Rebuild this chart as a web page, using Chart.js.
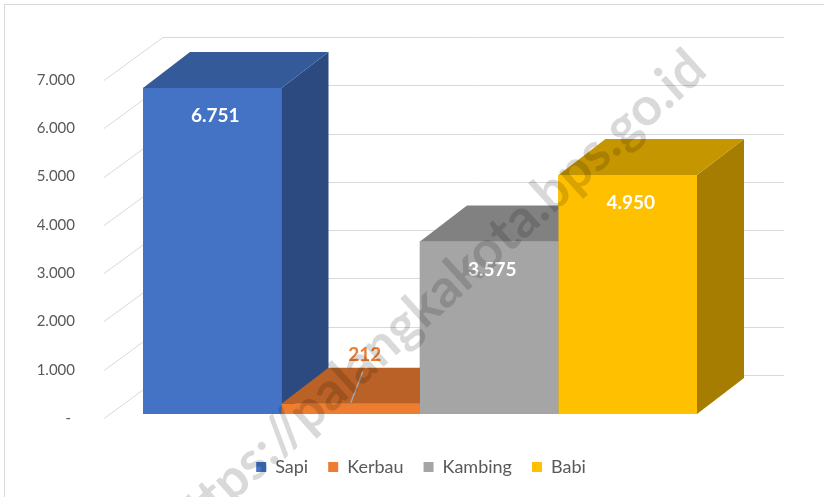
<!DOCTYPE html>
<html lang="id">
<head>
<meta charset="UTF-8">
<title>Populasi Ternak</title>
<script src="https://cdn.jsdelivr.net/npm/chart.js"></script>
<style>
  body { margin: 0; background: #fff; }
  #wrap { position: relative; width: 824px; height: 497px; overflow: hidden; }
  #frame { position: absolute; left: 4px; top: 4px; width: 900px; height: 600px; border: 1px solid #d9d9d9; }
  canvas { position: absolute; left: 0; top: 0; }
</style>
</head>
<body>
<div id="wrap">
  <div id="frame"></div>
  <canvas id="myChart" width="824" height="497"></canvas>
</div>
<script>
// data
const categories = [''];
const seriesNames = ['Sapi', 'Kerbau', 'Kambing', 'Babi'];
const seriesValues = [6751, 212, 3575, 4950];
const frontColors = ['#4472C4', '#ED7D31', '#A5A5A5', '#FFC000'];
const topColors = ['#355A9A', '#B96126', '#818181', '#C69600'];
const sideColors = ['#2C4A80', '#9A5020', '#6B6B6B', '#A67D00'];
const yTickLabels = ['- ', '1.000', '2.000', '3.000', '4.000', '5.000', '6.000', '7.000'];

const DX = 47, DY = 36;   // depth of the 3d boxes
const FONT = 'Lato, "Open Sans", sans-serif';

function fmt(v) {
    return String(v).replace(/\B(?=(\d{3})+(?!\d))/g, '.');
}

const bar3d = {
    id: 'bar3d',
    beforeDatasetsDraw(chart) {
        const ctx = chart.ctx, ys = chart.scales.y, area = chart.chartArea;
        ctx.save();
        ctx.strokeStyle = '#d9d9d9';
        ctx.lineWidth = 1;
        ys.ticks.forEach(t => {
            const py = Math.round(ys.getPixelForValue(t.value)) + 0.5;
            ctx.beginPath();
            ctx.moveTo(area.left - 39, py + 4);
            ctx.lineTo(area.left + 20, py - 39);
            ctx.lineTo(area.right + 87, py - 39);
            ctx.stroke();
        });
        ctx.restore();
    },
    afterDatasetsDraw(chart) {
        const ctx = chart.ctx;
        ctx.save();
        // redraw boxes left to right so later fronts cover earlier sides
        chart.data.datasets.forEach((ds, i) => {
            const el = chart.getDatasetMeta(i).data[0];
            const p = el.getProps(['x', 'y', 'base', 'width'], true);
            const l = p.x - p.width / 2, r = p.x + p.width / 2;
            ctx.fillStyle = sideColors[i];
            ctx.beginPath();
            ctx.moveTo(r, p.y); ctx.lineTo(r + DX, p.y - DY);
            ctx.lineTo(r + DX, p.base - DY); ctx.lineTo(r, p.base);
            ctx.closePath(); ctx.fill();
            ctx.fillStyle = topColors[i];
            ctx.beginPath();
            ctx.moveTo(l, p.y); ctx.lineTo(l + DX, p.y - DY);
            ctx.lineTo(r + DX, p.y - DY); ctx.lineTo(r, p.y);
            ctx.closePath(); ctx.fill();
            ctx.fillStyle = frontColors[i];
            ctx.fillRect(l, p.y, p.width, p.base - p.y);
        });
        // value labels
        ctx.font = 'bold 19px ' + FONT;
        ctx.textAlign = 'center';
        ctx.textBaseline = 'middle';
        chart.data.datasets.forEach((ds, i) => {
            const el = chart.getDatasetMeta(i).data[0];
            const p = el.getProps(['x', 'y', 'base'], true);
            const txt = fmt(ds.data[0]);
            if (p.base - p.y < 30) {
                ctx.strokeStyle = '#a6a6a6';
                ctx.lineWidth = 1.5;
                ctx.beginPath();
                ctx.moveTo(p.x, p.y - 1);
                ctx.lineTo(p.x + 12, p.y - 32);
                ctx.stroke();
                ctx.fillStyle = frontColors[i];
                ctx.fillText(txt, p.x + 14, p.y - 49);
            } else {
                ctx.fillStyle = '#ffffff';
                ctx.fillText(txt, p.x + 3, p.y + 28);
            }
        });
        ctx.restore();
    },
    afterDraw(chart) {
        // faint site watermark
        const ctx = chart.ctx;
        const text = 'https://palangkakota.bps.go.id';
        ctx.save();
        ctx.font = 'bold 100px ' + FONT;
        const size = 100 * 710 / ctx.measureText(text).width;
        ctx.font = 'bold ' + size.toFixed(1) + 'px ' + FONT;
        ctx.translate(434, 298);
        ctx.rotate(-42 * Math.PI / 180);
        ctx.textAlign = 'center';
        ctx.textBaseline = 'middle';
        ctx.fillStyle = 'rgba(0,0,0,0.15)';
        ctx.fillText(text, 0, 0);
        ctx.restore();
    }
};

const ctx = document.getElementById('myChart').getContext('2d');
const myChart = new Chart(ctx, {
    type: 'bar',
    data: {
        labels: categories,
        datasets: seriesNames.map((name, i) => ({
            label: name,
            data: [seriesValues[i]],
            backgroundColor: frontColors[i],
            borderWidth: 0,
            categoryPercentage: 1,
            barPercentage: 1
        }))
    },
    options: {
        responsive: false,
        animation: false,
        devicePixelRatio: 1,
        layout: { padding: { left: 18, right: 0, top: 76, bottom: 11 } },
        plugins: {
            tooltip: { enabled: false },
            legend: {
                position: 'bottom',
                labels: {
                    boxWidth: 10,
                    boxHeight: 10,
                    padding: 20,
                    color: '#595959',
                    font: { family: FONT, size: 18 }
                }
            }
        },
        scales: {
            x: {
                grid: { display: false },
                border: { display: false },
                ticks: { display: false },
                afterFit(s) { s.height = 24; }
            },
            y: {
                min: 0,
                max: 7000,
                grid: { display: false },
                border: { display: false },
                ticks: {
                    stepSize: 1000,
                    padding: 60,
                    labelOffset: 4,
                    color: '#595959',
                    font: { family: FONT, size: 15 },
                    callback: (v, idx) => yTickLabels[idx]
                },
                afterFit(s) { s.width = 125; }
            },
            yRight: {
                type: 'linear',
                position: 'right',
                grid: { display: false },
                border: { display: false },
                ticks: { display: false },
                afterFit(s) { s.width = 127; }
            }
        }
    },
    plugins: [bar3d]
});
</script>
</body>
</html>
